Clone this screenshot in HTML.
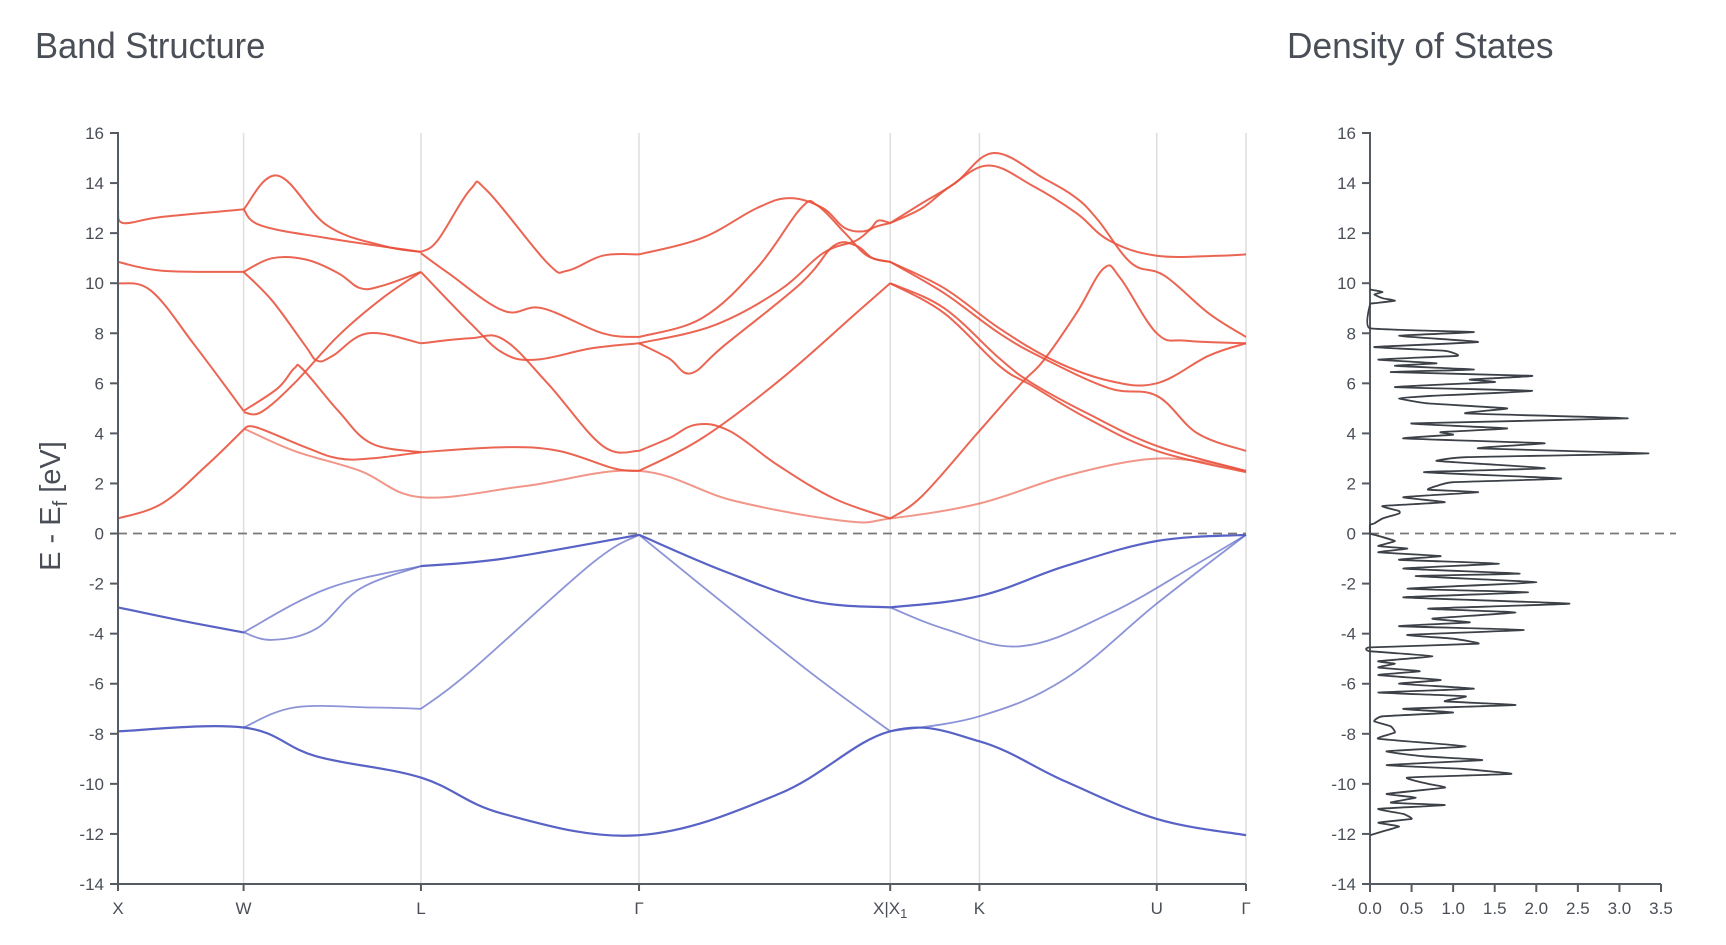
<!DOCTYPE html>
<html><head><meta charset="utf-8"><style>
html,body{margin:0;padding:0;background:#fff;}
svg{display:block;font-family:"Liberation Sans",sans-serif;}
.title{font-family:"Liberation Sans Narrow","Liberation Sans",sans-serif;font-size:36px;fill:#4a4f57;}
.tick{font-size:17px;fill:#4a4f57;}
</style></head><body>
<svg id="chart" width="1726" height="945">
<text class="title" x="0" y="0" transform="translate(35,58) scale(0.96,1)">Band Structure</text>
<text class="title" x="0" y="0" transform="translate(1287,58) scale(0.98,1)">Density of States</text>
<text x="0" y="0" font-size="29" fill="#4a4f57" transform="translate(60,506) rotate(-90)" text-anchor="middle">E - E<tspan font-size="20" dy="7">f</tspan><tspan dy="-7"> [eV]</tspan></text>
<g id="band"></g>
<g id="dos"></g>
</svg>
<script>
const kLabels=["X","W","L","Γ","X|X₁","K","U","Γ"];
const kPoints=[0,1.14,2.75,4.73,7.01,7.82,9.43,10.24];
const yTicks=[16,14,12,10,8,6,4,2,0,-2,-4,-6,-8,-10,-12,-14];
const dosTicks=[0,0.5,1.0,1.5,2.0,2.5,3.0,3.5];
// conduction bands [k,E]
const condBands=[
[[0,12.9],[0.05,12.4],[0.4,12.65],[1.14,12.95]],
[[0,10.85],[0.4,10.5],[1.14,10.45]],
[[0,10.0],[0.3,9.7],[0.7,7.5],[1.14,4.9]],
[[0,0.6],[0.4,1.2],[0.8,2.7],[1.14,4.15]],
[[1.14,12.95],[1.45,14.3],[1.9,12.3],[2.4,11.5],[2.75,11.25]],
[[1.14,12.95],[1.3,12.3],[1.9,11.8],[2.75,11.25]],
[[1.14,10.45],[1.4,11.0],[1.7,10.95],[2.0,10.4],[2.2,9.8],[2.4,9.9],[2.75,10.45]],
[[1.14,10.45],[1.4,9.3],[1.7,7.5],[1.81,6.9],[1.95,7.1],[2.27,8.0],[2.75,7.6]],
[[1.14,4.9],[1.45,5.8],[1.6,6.6],[1.68,6.55],[2.0,4.9],[2.3,3.6],[2.75,3.25]],
[[1.14,4.85],[1.3,4.85],[1.6,6.0],[2.0,7.9],[2.4,9.4],[2.75,10.45]],
[[1.14,4.15],[1.25,4.25],[1.7,3.45],[2.0,3.0],[2.3,3.0],[2.75,3.25]],
[[2.75,11.25],[2.9,11.7],[3.2,13.75],[3.35,13.7],[3.9,10.8],[4.08,10.5],[4.4,11.1],[4.73,11.15]],
[[2.75,11.2],[3.0,10.4],[3.5,8.9],[3.85,9.0],[4.4,8.0],[4.73,7.85]],
[[2.75,10.45],[3.2,8.4],[3.5,7.2],[3.8,6.95],[4.3,7.4],[4.73,7.6]],
[[2.75,7.6],[3.2,7.8],[3.5,7.75],[3.9,6.0],[4.4,3.5],[4.73,3.3]],
[[2.75,3.25],[3.5,3.45],[4.0,3.3],[4.5,2.6],[4.73,2.5]],
[[4.73,11.15],[5.3,11.8],[5.8,13.0],[6.1,13.4],[6.4,13.0],[6.6,12.2],[6.8,12.1],[6.9,12.5],[7.01,12.4]],
[[4.73,7.85],[5.3,8.6],[5.8,10.6],[6.2,13.0],[6.35,13.1],[6.6,12.0],[6.8,11.1],[7.01,10.85]],
[[4.73,7.6],[5.4,8.3],[6.0,9.7],[6.4,11.2],[6.7,11.7],[6.85,12.2],[7.01,12.4]],
[[4.73,7.6],[5.0,7.0],[5.2,6.4],[5.5,7.5],[6.2,10.0],[6.5,11.5],[6.7,11.5],[6.85,11.0],[7.01,10.85]],
[[4.73,2.5],[5.3,3.8],[6.0,6.1],[6.7,8.8],[7.01,10.0]],
[[4.73,3.3],[5.0,3.8],[5.25,4.35],[5.55,4.1],[6.0,2.7],[6.5,1.4],[7.01,0.6]],
[[7.01,12.4],[7.3,13.0],[7.55,13.85],[7.9,14.7],[8.3,13.9],[8.7,12.8],[9.0,11.7],[9.43,11.1],[10.0,11.1],[10.24,11.15]],
[[7.01,12.4],[7.3,13.2],[7.6,14.0],[7.95,15.2],[8.4,14.2],[8.7,13.4],[8.9,12.5],[9.2,10.8],[9.5,10.3],[9.9,8.8],[10.24,7.85]],
[[7.01,10.85],[7.5,9.8],[8.0,8.2],[8.5,6.9],[9.0,6.1],[9.43,6.0],[9.9,7.1],[10.24,7.6]],
[[7.01,10.85],[7.5,9.6],[8.0,8.0],[8.4,7.0],[9.0,5.8],[9.43,5.5],[9.8,4.0],[10.24,3.3]],
[[7.01,10.0],[7.5,9.0],[8.0,7.0],[8.3,6.0],[8.8,4.8],[9.43,3.5],[10.24,2.5]],
[[7.01,10.0],[7.5,8.8],[8.0,6.7],[8.3,5.9],[8.8,4.6],[9.43,3.3],[10.24,2.45]],
[[7.01,0.6],[7.3,1.5],[7.8,4.0],[8.2,6.0],[8.4,6.9],[8.7,8.8],[8.95,10.6],[9.1,10.2],[9.43,8.0],[9.7,7.7],[10.24,7.6]]
];
const condLight=[[1.14,4.2],[1.6,3.3],[2.2,2.5],[2.75,1.45],[3.7,1.9],[4.73,2.5],[5.6,1.3],[6.6,0.5],[7.01,0.6],[7.82,1.2],[8.6,2.3],[9.3,2.95],[9.8,2.9],[10.24,2.5]];
const valDark=[
[[0,-2.95],[0.6,-3.5],[1.14,-3.95]],
[[2.75,-1.3],[3.5,-1.0],[4.73,-0.05]],
[[4.73,-0.05],[5.5,-1.5],[6.3,-2.7],[7.01,-2.95]],
[[7.01,-2.95],[7.82,-2.5],[8.6,-1.3],[9.43,-0.3],[10.24,-0.05]],
[[0,-7.9],[1.14,-7.75],[1.8,-8.9],[2.75,-9.75],[3.5,-11.2],[4.73,-12.05],[6.0,-10.4],[7.01,-7.9],[7.82,-8.3],[8.6,-9.9],[9.43,-11.4],[10.24,-12.05]]
];
const valLight=[
[[1.14,-3.95],[1.9,-2.2],[2.75,-1.3]],
[[1.14,-3.95],[1.4,-4.25],[1.8,-3.8],[2.2,-2.2],[2.75,-1.3]],
[[2.75,-7.0],[3.2,-5.5],[4.3,-1.2],[4.73,-0.05]],
[[4.73,-0.05],[5.5,-2.8],[6.3,-5.6],[7.01,-7.9]],
[[7.01,-2.95],[7.5,-3.8],[8.2,-4.5],[9.0,-3.2],[9.8,-1.2],[10.24,-0.05]],
[[1.14,-7.75],[1.6,-6.95],[2.3,-6.95],[2.75,-7.0]],
[[7.01,-7.9],[7.82,-7.3],[8.6,-5.8],[9.43,-2.8],[10.24,-0.05]]
];
const dosE=[9.75,9.65,9.55,9.4,9.3,9.2,9.15,8.2,8.05,7.9,7.65,7.45,7.3,7.1,6.95,6.8,6.7,6.55,6.45,6.3,6.15,6.05,5.85,5.7,5.5,5.4,5.2,5.0,4.8,4.6,4.4,4.2,4.05,3.95,3.8,3.65,3.6,3.4,3.2,3.05,2.9,2.75,2.6,2.45,2.2,2.05,1.9,1.75,1.65,1.45,1.25,1.1,0.9,0.8,0.6,0.4,0.35,0,-0.05,-0.3,-0.5,-0.6,-0.75,-0.9,-1.05,-1.2,-1.4,-1.6,-1.7,-1.95,-2.2,-2.35,-2.55,-2.8,-3.0,-3.15,-3.4,-3.55,-3.7,-3.85,-4.05,-4.2,-4.4,-4.55,-4.7,-4.9,-5.1,-5.2,-5.35,-5.5,-5.65,-5.85,-6.0,-6.2,-6.35,-6.5,-6.7,-6.85,-7.0,-7.15,-7.3,-7.5,-7.7,-7.95,-8.2,-8.5,-8.7,-8.9,-9.05,-9.25,-9.4,-9.6,-9.75,-10.0,-10.15,-10.4,-10.55,-10.75,-10.85,-11.0,-11.2,-11.4,-11.55,-11.7,-11.9,-12.05];
const dosV=[0,0.15,0.05,0.15,0.3,0.05,0,0,1.25,0.35,1.3,0.05,0.9,1.05,0.1,0.8,0.3,1.25,0.25,1.95,1.2,1.5,0.3,1.95,0.75,0.35,0.7,1.65,1.15,3.1,0.5,1.65,0.85,1.0,0.4,1.75,2.1,1.3,3.35,1.15,0.8,1.5,2.1,0.65,2.3,1.0,0.8,0.7,1.3,0.4,0.9,0.15,0.35,0.35,0.15,0.05,0,0,0.05,0.3,0.1,0.45,0.1,0.85,0.35,1.55,0.4,1.8,0.55,2.0,0.45,1.9,0.4,2.4,0.7,1.75,0.75,1.2,0.35,1.85,0.45,1.0,1.3,0,0,0.75,0.1,0.3,0.1,0.6,0.1,0.85,0.35,1.25,0.1,1.15,0.9,1.75,0.4,1.0,0.15,0.05,0.25,0.3,0.1,1.15,0.2,0.65,1.35,0.2,1.1,1.7,0.45,0.7,0.9,0.2,0.55,0.25,0.9,0.1,0.4,0.5,0.1,0.35,0.15,0];

const NS="http://www.w3.org/2000/svg";
const X0=118,X1=1246,Y0=133,Y1=884,EMAX=16,EMIN=-14;
const kMax=kPoints[kPoints.length-1];
const xK=k=>X0+(k/kMax)*(X1-X0);
const yE=e=>Y0+(EMAX-e)/(EMAX-EMIN)*(Y1-Y0);
const DX0=1370,DX1=1661,DMAX=3.5;
const xD=v=>DX0+v/DMAX*(DX1-DX0);
function mk(tag,attrs,parent){const el=document.createElementNS(NS,tag);for(const a in attrs)el.setAttribute(a,attrs[a]);parent.appendChild(el);return el;}
function smooth(pts,t){
  if(t===undefined)t=0.18;
  let d="M"+pts[0][0].toFixed(1)+","+pts[0][1].toFixed(1);
  for(let i=0;i<pts.length-1;i++){
    const p0=pts[Math.max(i-1,0)],p1=pts[i],p2=pts[i+1],p3=pts[Math.min(i+2,pts.length-1)];
    const c1=[p1[0]+(p2[0]-p0[0])*t,p1[1]+(p2[1]-p0[1])*t];
    const c2=[p2[0]-(p3[0]-p1[0])*t,p2[1]-(p3[1]-p1[1])*t];
    d+="C"+c1[0].toFixed(1)+","+c1[1].toFixed(1)+" "+c2[0].toFixed(1)+","+c2[1].toFixed(1)+" "+p2[0].toFixed(1)+","+p2[1].toFixed(1);
  }
  return d;
}
const band=document.getElementById('band');
kPoints.forEach((k,i)=>{
  const g=mk('line',{x1:xK(k),x2:xK(k),y1:Y0,y2:Y1,stroke:'#dedede','stroke-width':1.5},band);
  
  
  const t=mk('text',{x:xK(k),y:Y1+30,'text-anchor':'middle',class:'tick'},band);
  
  
  if(kLabels[i]==="X|X₁"){t.innerHTML='X|X<tspan font-size="13" dy="4">1</tspan>';}else t.textContent=kLabels[i];
  const tk=mk('line',{x1:xK(k),x2:xK(k),y1:Y1,y2:Y1+7,stroke:'#555b63','stroke-width':2},band);
  
  
});
function drawSet(sets,color,op,w,name,g,xf){
  sets.forEach(b=>{
    const p=mk('path',{d:smooth(b.map(q=>[xf(q[0]),yE(q[1])])),fill:'none',stroke:color,'stroke-opacity':op,'stroke-width':w},g);
    
    
  });
}
drawSet([condLight],'#e8503a',0.6,2,'conduction-band-light',band,xK);
drawSet(condBands,'#e8503a',0.88,2,'conduction-band',band,xK);
drawSet(valLight,'#4f5bc2',0.65,1.8,'valence-band-light',band,xK);
drawSet(valDark,'#4f5bc2',0.95,2.2,'valence-band',band,xK);
const fz=mk('line',{x1:X0,x2:X1,y1:yE(0),y2:yE(0),stroke:'#777','stroke-width':1.8,'stroke-dasharray':'9,6'},band);


function yAxis(g,x){
  const ax=mk('path',{d:`M${x-8},${Y0}H${x}V${Y1}H${x-8}`,fill:'none',stroke:'#555b63','stroke-width':2},g);
  
  
  yTicks.forEach(v=>{
    const l=mk('line',{x1:x-8,x2:x,y1:yE(v),y2:yE(v),stroke:'#555b63','stroke-width':2},g);
    
    
    const t=mk('text',{x:x-14,y:yE(v)+6,'text-anchor':'end',class:'tick'},g);
    
    
    t.textContent=v;
  });
}
yAxis(band,X0);
const bx=mk('line',{x1:X0,x2:X1,y1:Y1,y2:Y1,stroke:'#555b63','stroke-width':2},band);



const dos=document.getElementById('dos');
yAxis(dos,DX0);
const dxa=mk('line',{x1:DX0,x2:DX1,y1:Y1,y2:Y1,stroke:'#555b63','stroke-width':2},dos);


dosTicks.forEach(v=>{
  const l=mk('line',{x1:xD(v),x2:xD(v),y1:Y1,y2:Y1+8,stroke:'#555b63','stroke-width':2},dos);
  
  
  const t=mk('text',{x:xD(v),y:Y1+30,'text-anchor':'middle',class:'tick'},dos);
  
  
  t.textContent=v.toFixed(1);
});
const dz=mk('line',{x1:DX0,x2:1676,y1:yE(0),y2:yE(0),stroke:'#777','stroke-width':1.8,'stroke-dasharray':'9,6'},dos);


const dp=dosE.map((e,i)=>[xD(dosV[i]),yE(e)]);
const dl=mk('path',{d:smooth(dp,0.06),fill:'none',stroke:'#3c4047','stroke-width':1.8},dos);


</script>
</body></html>
